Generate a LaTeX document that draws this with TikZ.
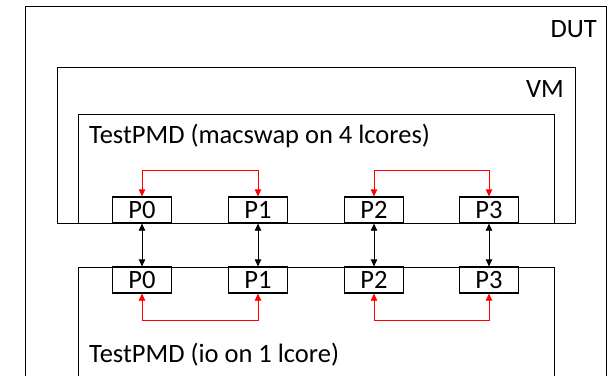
\documentclass[tikz,border=0pt]{standalone}
\usepackage{fontspec}
\setmainfont{Carlito}
\usetikzlibrary{arrows.meta}
\begin{document}
\begin{tikzpicture}[x=1pt,y=-1pt,
  container/.style={draw,line width=1.3pt,anchor=north west,inner sep=0pt},
  port/.style={draw,line width=1.3pt,fill=white,minimum width=59pt,minimum height=26pt,inner sep=0pt,font=\fontsize{26.5}{30}\selectfont},
  lbl/.style={inner sep=0pt,font=\fontsize{26.5}{30}\selectfont},
  link/.style={line width=0.8pt,{Triangle[length=7pt,width=6.5pt]}-{Triangle[length=7pt,width=6.5pt]}},
  swap/.style={link,draw=red!85!white,color=red}]
\useasboundingbox (0,0) rectangle (615,375);
\clip (0,0) rectangle (615,375);
\node[container,minimum width=581pt,minimum height=400pt] (dut) at (25,6) {};
\node[container,minimum width=518pt,minimum height=156pt] (vm) at (57,67) {};
\node[container,minimum width=476pt,minimum height=109pt] (tpa) at (78,114) {};
\node[container,minimum width=476pt,minimum height=150pt] (tpb) at (78,267) {};
\node[lbl,anchor=east] (dutl) at (597,29) {DUT};
\node[lbl,anchor=east] (vml) at (564,89) {VM};
\node[lbl,anchor=west] (tpal) at (89,136) {TestPMD (macswap on 4 lcores)};
\node[lbl,anchor=west] (tpbl) at (89,355) {TestPMD (io on 1 lcore)};
\foreach \i/\x in {0/142,1/258,2/374,3/489}{
  \node[port] (t\i) at (\x,210) {P\i};
  \node[port] (b\i) at (\x,280) {P\i};
  \draw[link] (t\i.south) -- (b\i.north);
}
\draw[swap] (t0.north) -- ++(0,-26) -| (t1.north);
\draw[swap] (t2.north) -- ++(0,-26) -| (t3.north);
\draw[swap] (b0.south) -- ++(0,27) -| (b1.south);
\draw[swap] (b2.south) -- ++(0,27) -| (b3.south);
\end{tikzpicture}
\end{document}
